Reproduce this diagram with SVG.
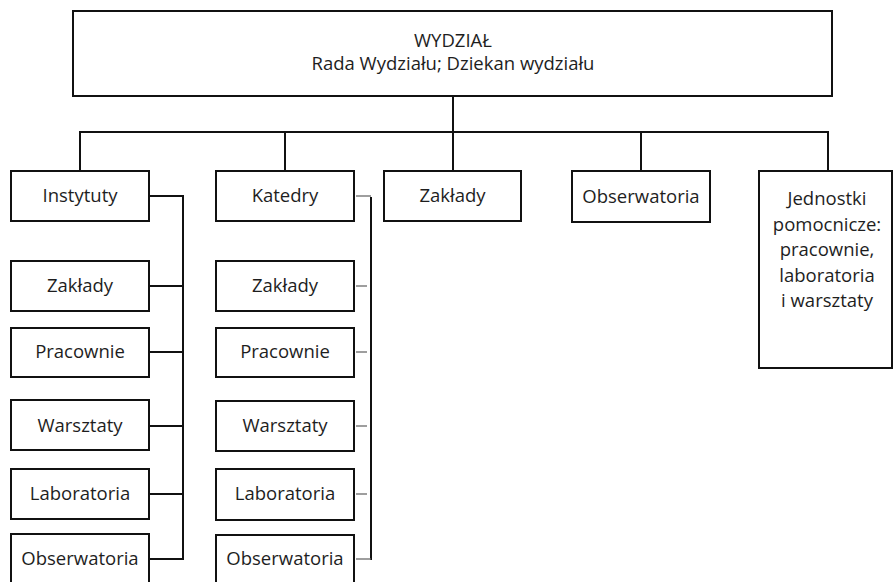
<svg xmlns="http://www.w3.org/2000/svg" width="894" height="582" viewBox="0 0 894 582">
  <style>
    .box { fill: #ffffff; stroke: #111111; stroke-width: 2; }
    .lbl { font-family: "Open Sans", "Noto Sans", "DejaVu Sans", sans-serif; font-size: 18.5px; fill: #1e1e1e; text-anchor: middle; }
    .link { fill: none; stroke: #111111; stroke-width: 2; }
    .tick { fill: none; stroke: #6a6a6a; stroke-width: 1.3; }
  </style>
  <rect width="894" height="582" fill="#ffffff"/>

  <!-- connectors -->
  <g id="connectors">
    <!-- faculty to the bus -->
    <path class="link" d="M453 96 V132"/>
    <path class="link" d="M80 171 V132 H828 V171"/>
    <path class="link" d="M285 132 V171"/>
    <path class="link" d="M453 132 V171"/>
    <path class="link" d="M641 132 V171"/>
    <!-- institutes column -->
    <path class="link" d="M149 196 H183 V559 H149"/>
    <path class="link" d="M149 286 H183"/>
    <path class="link" d="M149 352 H183"/>
    <path class="link" d="M149 426 H183"/>
    <path class="link" d="M149 494 H183"/>
    <!-- chairs column -->
    <path class="link" d="M371 197 V560"/>
    <path class="tick" d="M356 196 H371"/>
    <path class="tick" d="M356 286 H367"/>
    <path class="tick" d="M356 352 H367"/>
    <path class="tick" d="M356 426 H367"/>
    <path class="tick" d="M356 494 H367"/>
    <path class="tick" d="M356 559 H371"/>
  </g>

  <!-- faculty -->
  <g id="wydzial">
    <rect class="box" x="73" y="11" width="759" height="85"/>
    <text class="lbl" x="453" y="47">WYDZIAŁ</text>
    <text class="lbl" x="453" y="70">Rada Wydziału; Dziekan wydziału</text>
  </g>

  <!-- top row -->
  <g id="instytuty">
    <rect class="box" x="11" y="171" width="138" height="50"/>
    <text class="lbl" x="80" y="202">Instytuty</text>
  </g>
  <g id="katedry">
    <rect class="box" x="216" y="171" width="138" height="50"/>
    <text class="lbl" x="285" y="202">Katedry</text>
  </g>
  <g id="zaklady">
    <rect class="box" x="384" y="171" width="137" height="50"/>
    <text class="lbl" x="452.5" y="202">Zakłady</text>
  </g>
  <g id="obserwatoria">
    <rect class="box" x="572" y="171" width="138" height="51"/>
    <text class="lbl" x="641" y="203">Obserwatoria</text>
  </g>
  <g id="jednostki">
    <rect class="box" x="759" y="171" width="133" height="197"/>
    <text class="lbl" x="827" y="205">Jednostki</text>
    <text class="lbl" x="827" y="230.5">pomocnicze:</text>
    <text class="lbl" x="827" y="256">pracownie,</text>
    <text class="lbl" x="827" y="281.5">laboratoria</text>
    <text class="lbl" x="827" y="307">i warsztaty</text>
  </g>

  <!-- units of institutes -->
  <g id="inst-zaklady">
    <rect class="box" x="11" y="261" width="138" height="50"/>
    <text class="lbl" x="80" y="292">Zakłady</text>
  </g>
  <g id="inst-pracownie">
    <rect class="box" x="11" y="328" width="138" height="49"/>
    <text class="lbl" x="80" y="358">Pracownie</text>
  </g>
  <g id="inst-warsztaty">
    <rect class="box" x="11" y="400" width="138" height="50"/>
    <text class="lbl" x="80" y="432">Warsztaty</text>
  </g>
  <g id="inst-laboratoria">
    <rect class="box" x="11" y="469" width="138" height="50"/>
    <text class="lbl" x="80" y="500">Laboratoria</text>
  </g>
  <g id="inst-obserwatoria">
    <rect class="box" x="11" y="534" width="138" height="60"/>
    <text class="lbl" x="80" y="565">Obserwatoria</text>
  </g>

  <!-- units of chairs -->
  <g id="kat-zaklady">
    <rect class="box" x="216" y="261" width="138" height="50"/>
    <text class="lbl" x="285" y="292">Zakłady</text>
  </g>
  <g id="kat-pracownie">
    <rect class="box" x="216" y="328" width="138" height="49"/>
    <text class="lbl" x="285" y="358">Pracownie</text>
  </g>
  <g id="kat-warsztaty">
    <rect class="box" x="216" y="401" width="138" height="50"/>
    <text class="lbl" x="285" y="432">Warsztaty</text>
  </g>
  <g id="kat-laboratoria">
    <rect class="box" x="216" y="469" width="138" height="51"/>
    <text class="lbl" x="285" y="500">Laboratoria</text>
  </g>
  <g id="kat-obserwatoria">
    <rect class="box" x="216" y="535" width="138" height="60"/>
    <text class="lbl" x="285" y="565">Obserwatoria</text>
  </g>
</svg>
